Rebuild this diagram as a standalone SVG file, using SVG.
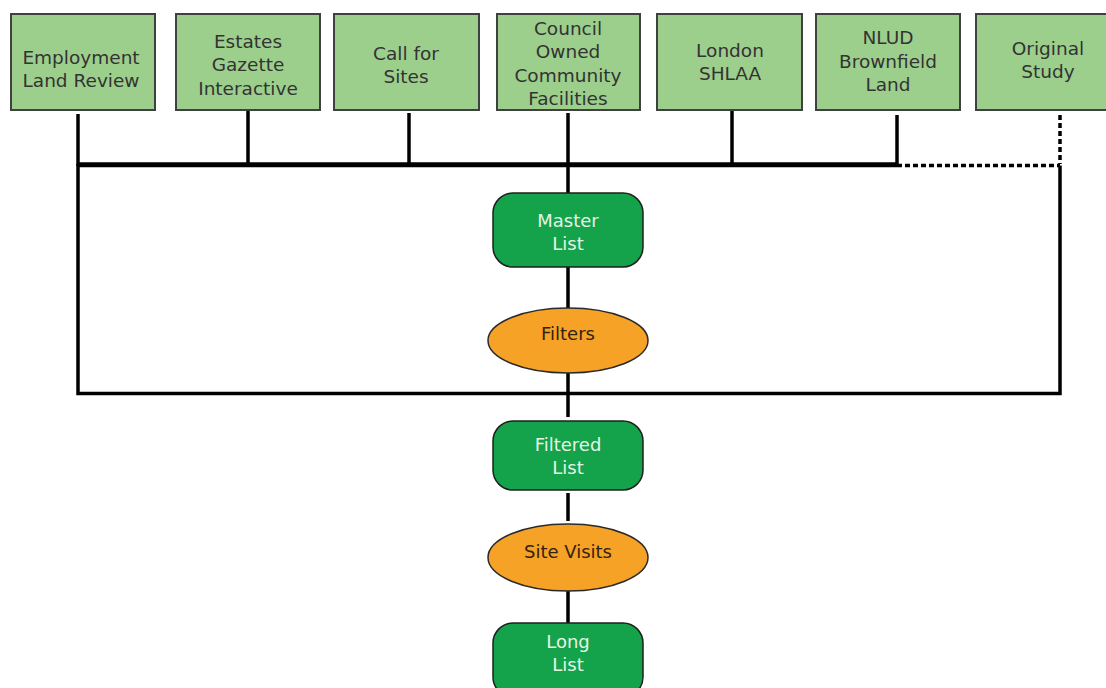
<svg xmlns="http://www.w3.org/2000/svg" width="1106" height="688" viewBox="0 0 1106 688">
<style>
.src rect{fill:#9ccf8c;stroke:#404040;stroke-width:2}
.src text{font-family:"DejaVu Sans",sans-serif;font-size:18.5px;fill:#333;text-anchor:middle}
.lst rect{fill:#14a24b;stroke:#1f1f1f;stroke-width:1.5}
.lst text{font-family:"DejaVu Sans",sans-serif;font-size:18px;fill:#e6f4e6;text-anchor:middle}
.flt ellipse{fill:#f6a226;stroke:#2a2a2a;stroke-width:1.5}
.flt text{font-family:"DejaVu Sans",sans-serif;font-size:18px;fill:#332211;text-anchor:middle}
.ln{stroke:#000;stroke-width:3.5;fill:none}
.dash{stroke:#000;stroke-width:3.5;fill:none;stroke-dasharray:5 3}
</style>
<rect width="1106" height="688" fill="#fff"/>
<g id="connectors">
<path class="ln" d="M897 165.5 H78 V393.5 H1060 V165.5"/>
<line class="ln" x1="78" y1="164" x2="897" y2="164"/>
<line class="dash" x1="897" y1="165.5" x2="1060" y2="165.5"/>
<line class="ln" x1="78" y1="114" x2="78" y2="166"/>
<line class="ln" x1="248" y1="111" x2="248" y2="164"/>
<line class="ln" x1="409" y1="113" x2="409" y2="164"/>
<line class="ln" x1="568" y1="113" x2="568" y2="193"/>
<line class="ln" x1="732" y1="111" x2="732" y2="164"/>
<line class="ln" x1="897" y1="115" x2="897" y2="164"/>
<line class="dash" x1="1060" y1="115" x2="1060" y2="164"/>
<line class="ln" x1="568" y1="267" x2="568" y2="308"/>
<line class="ln" x1="568" y1="373" x2="568" y2="417"/>
<line class="ln" x1="568" y1="493" x2="568" y2="521"/>
<line class="ln" x1="568" y1="591" x2="568" y2="623"/>
</g>
<g id="n1" class="src"><rect x="11" y="14" width="144" height="96"/><text x="81" y="64">Employment</text><text x="81" y="87">Land Review</text></g>
<g id="n2" class="src"><rect x="176" y="14" width="144" height="96"/><text x="248" y="48">Estates</text><text x="248" y="71">Gazette</text><text x="248" y="95">Interactive</text></g>
<g id="n3" class="src"><rect x="334" y="14" width="145" height="96"/><text x="406" y="60">Call for</text><text x="406" y="83">Sites</text></g>
<g id="n4" class="src"><rect x="497" y="14" width="143" height="96"/><text x="568" y="35">Council</text><text x="568" y="58">Owned</text><text x="568" y="82">Community</text><text x="568" y="105">Facilities</text></g>
<g id="n5" class="src"><rect x="657" y="14" width="145" height="96"/><text x="730" y="57">London</text><text x="730" y="80">SHLAA</text></g>
<g id="n6" class="src"><rect x="816" y="14" width="144" height="96"/><text x="888" y="44">NLUD</text><text x="888" y="68">Brownfield</text><text x="888" y="91">Land</text></g>
<g id="n7" class="src"><rect x="976" y="14" width="145" height="96"/><text x="1048" y="55">Original</text><text x="1048" y="78">Study</text></g>
<g id="master" class="lst"><rect x="493" y="193" width="150" height="74" rx="20"/><text x="568" y="227">Master</text><text x="568" y="250">List</text></g>
<g id="filters" class="flt"><ellipse cx="568" cy="340.5" rx="80" ry="32.5"/><text x="568" y="340">Filters</text></g>
<g id="filtered" class="lst"><rect x="493" y="421" width="150" height="69" rx="20"/><text x="568" y="451">Filtered</text><text x="568" y="474">List</text></g>
<g id="sitevisits" class="flt"><ellipse cx="568" cy="557.5" rx="80" ry="33.5"/><text x="568" y="558">Site Visits</text></g>
<g id="longlist" class="lst"><rect x="493" y="623" width="150" height="74" rx="20"/><text x="568" y="648">Long</text><text x="568" y="671">List</text></g>
</svg>
